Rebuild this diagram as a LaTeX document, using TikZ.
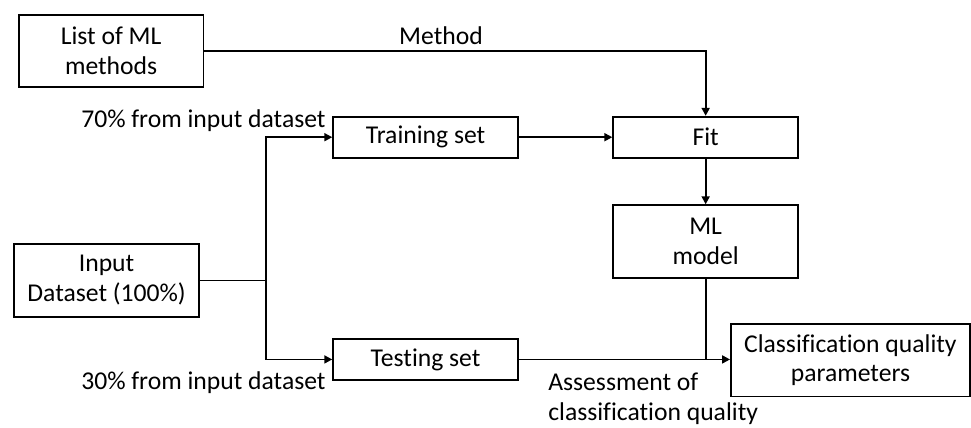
\documentclass[tikz,border=0pt]{standalone}
\usepackage{fontspec}
\setmainfont[Ligatures=NoCommon]{Carlito}
\usetikzlibrary{arrows.meta,positioning}
\tikzset{
  flowbox/.style={draw,line width=1.4pt,align=center,inner sep=2pt,
    minimum width=4.89cm,minimum height=1.08cm},
  tallbox/.style={flowbox,minimum height=1.92cm},
  flowarrow/.style={line width=1.4pt,-{Triangle[length=6pt,width=6pt]}},
  flowline/.style={line width=1.4pt},
  flowlabel/.style={inner sep=0pt,align=left}
}

\begin{document}
\begin{tikzpicture}[x=1cm,y=1cm,font=\fontsize{19.3}{22.5}\selectfont]
\path[use as bounding box] (0,0) rectangle (25.69,11.32);
% boxes
\node[tallbox] (list) at (2.94,9.97) {List of ML\\methods};
\node[flowbox] (train) at (11.26,7.69) {Training set};
\node[flowbox] (fit) at (18.67,7.69) {Fit};
\node[tallbox] (model) at (18.67,4.93) {ML\\model};
\node[tallbox] (input) at (2.82,3.90) {Input\\Dataset (100\%)};
\node[flowbox] (test) at (11.26,1.81) {Testing set};
\node[tallbox,minimum width=6.32cm] (quality) at (22.50,1.79) {Classification quality\\parameters};
% split point
\coordinate (split) at (7.04,3.90);
% connectors
\draw[flowarrow] (list.east) -| node[pos=0.236,above=1pt] (methodlbl) {Method} (fit.north);
\draw[flowline] (input.east) -- (split);
\draw[flowarrow] (split) |- (train.west);
\draw[flowarrow] (split) |- (test.west);
\draw[flowarrow] (train.east) -- (fit.west);
\draw[flowarrow] (fit.south) -- (model.north);
\draw[flowarrow] (test.east) -- (quality.west |- test.east);
\draw[flowline] (model.south) -- (model.south |- test.east);
% labels
\node[flowlabel,anchor=east] (trainlbl) at (8.62,8.12) {70\% from input dataset};
\node[flowlabel,anchor=east] (testlbl) at (8.62,1.20) {30\% from input dataset};
\node[flowlabel,anchor=west] (assesslbl) at (14.50,0.78) {Assessment of\\classification quality};
\end{tikzpicture}
\end{document}
